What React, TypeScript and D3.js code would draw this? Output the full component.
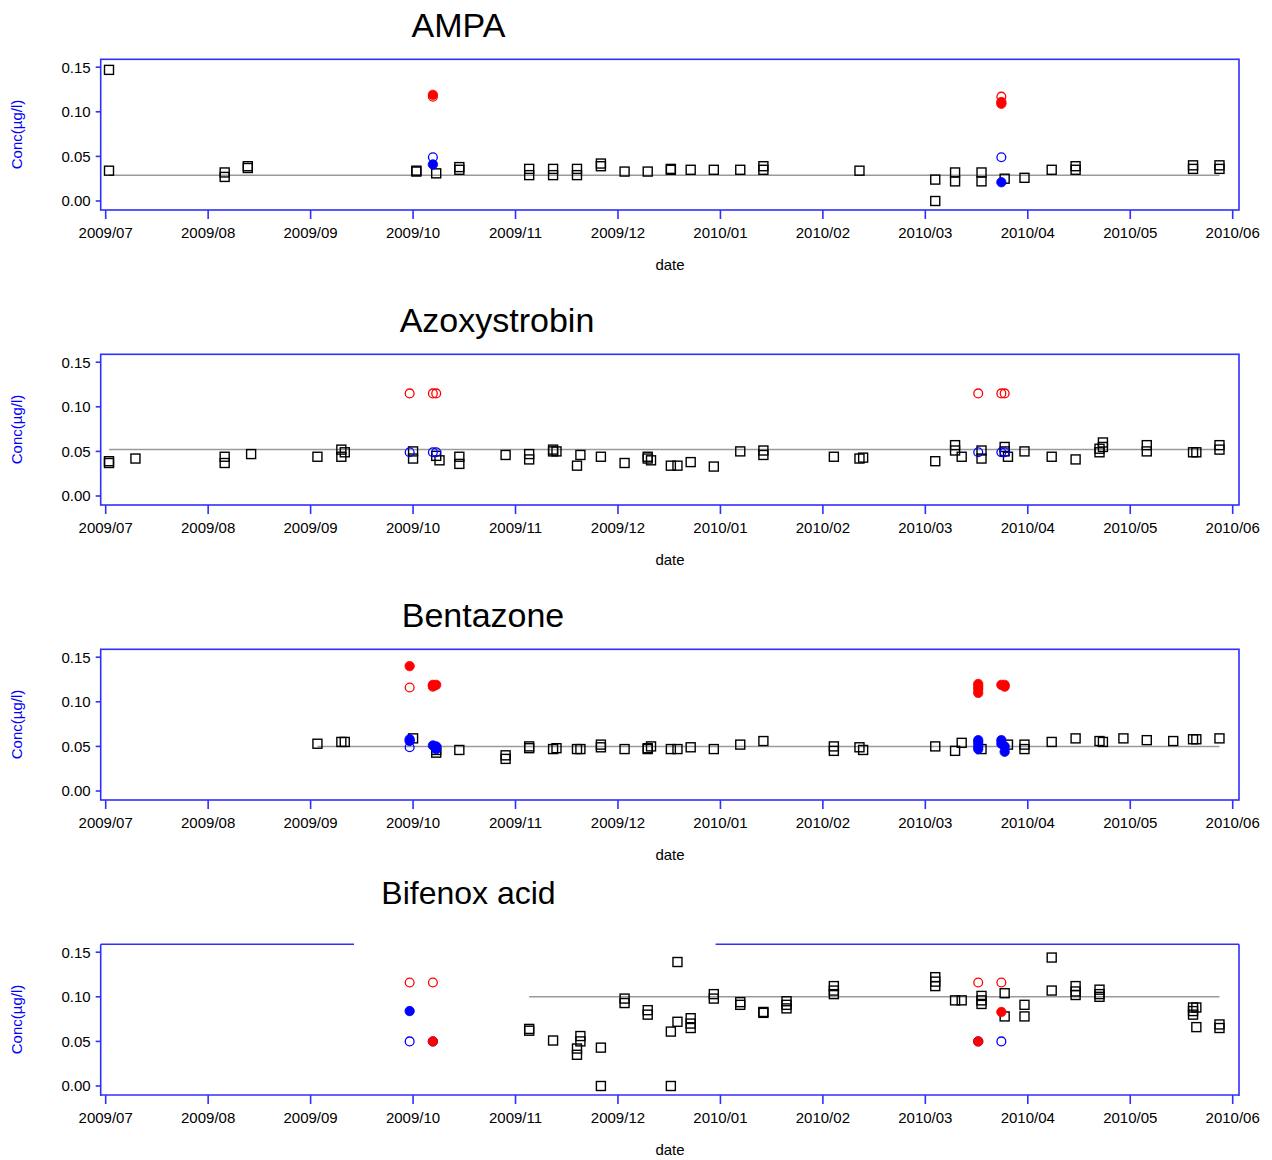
import React from "react";
import * as d3 from "d3";

type Pt = [string, number];

// ---------- data ----------
const monthTicks = ["2009/07","2009/08","2009/09","2009/10","2009/11","2009/12","2010/01","2010/02","2010/03","2010/04","2010/05","2010/06"];
const yTicks = [0, 0.05, 0.1, 0.15];
const compounds = ["AMPA", "Azoxystrobin", "Bentazone", "Bifenox acid"];
const meanValues = [0.029, 0.052, 0.05, 0.1];
const meanSpans: [string, string][] = [
  ["2009-07-02", "2010-05-28"],
  ["2009-07-02", "2010-05-28"],
  ["2009-09-03", "2010-05-28"],
  ["2009-11-05", "2010-05-28"],
];

const ampaSquares: Pt[] = [
  ["2009-07-02",0.147],["2009-07-02",0.034],
  ["2009-08-06",0.032],["2009-08-06",0.027],
  ["2009-08-13",0.039],["2009-08-13",0.037],
  ["2009-10-02",0.034],["2009-10-02",0.033],
  ["2009-10-08",0.031],
  ["2009-10-15",0.038],["2009-10-15",0.035],
  ["2009-11-05",0.036],["2009-11-05",0.029],
  ["2009-11-12",0.036],["2009-11-12",0.029],
  ["2009-11-19",0.036],["2009-11-19",0.029],
  ["2009-11-26",0.042],["2009-11-26",0.039],
  ["2009-12-03",0.033],
  ["2009-12-10",0.033],
  ["2009-12-17",0.035],["2009-12-17",0.036],
  ["2009-12-23",0.035],
  ["2009-12-30",0.035],
  ["2010-01-07",0.035],
  ["2010-01-14",0.039],["2010-01-14",0.035],
  ["2010-02-11",0.034],
  ["2010-03-04",0.024],["2010-03-04",0.0],
  ["2010-03-10",0.032],["2010-03-10",0.022],
  ["2010-03-18",0.032],["2010-03-18",0.022],
  ["2010-03-25",0.025],
  ["2010-03-31",0.026],
  ["2010-04-08",0.035],
  ["2010-04-15",0.039],["2010-04-15",0.035],
  ["2010-05-20",0.040],["2010-05-20",0.036],
  ["2010-05-28",0.040],["2010-05-28",0.036],
];
const ampaRedOpen: Pt[] = [["2009-10-07",0.117],["2010-03-24",0.117]];
const ampaRedFilled: Pt[] = [["2009-10-07",0.119],["2010-03-24",0.111],["2010-03-24",0.109]];
const ampaBlueOpen: Pt[] = [["2009-10-07",0.049],["2010-03-24",0.049]];
const ampaBlueFilled: Pt[] = [["2009-10-07",0.041],["2010-03-24",0.021]];

const azoxSquares: Pt[] = [
  ["2009-07-02",0.039],["2009-07-02",0.037],
  ["2009-07-10",0.042],
  ["2009-08-06",0.044],["2009-08-06",0.037],
  ["2009-08-14",0.047],
  ["2009-09-03",0.044],
  ["2009-09-10",0.052],["2009-09-10",0.044],["2009-09-11",0.049],
  ["2009-10-01",0.050],["2009-10-01",0.042],
  ["2009-10-08",0.045],["2009-10-09",0.040],
  ["2009-10-15",0.044],["2009-10-15",0.036],
  ["2009-10-29",0.046],
  ["2009-11-05",0.047],["2009-11-05",0.041],
  ["2009-11-12",0.052],["2009-11-12",0.050],["2009-11-13",0.050],
  ["2009-11-19",0.034],["2009-11-20",0.046],
  ["2009-11-26",0.044],
  ["2009-12-03",0.037],
  ["2009-12-10",0.044],["2009-12-10",0.042],["2009-12-11",0.040],
  ["2009-12-17",0.034],["2009-12-19",0.034],
  ["2009-12-23",0.038],
  ["2009-12-30",0.033],
  ["2010-01-07",0.050],
  ["2010-01-14",0.051],["2010-01-14",0.046],
  ["2010-02-04",0.044],
  ["2010-02-11",0.042],["2010-02-12",0.043],
  ["2010-03-04",0.039],
  ["2010-03-10",0.057],["2010-03-10",0.051],
  ["2010-03-12",0.044],
  ["2010-03-18",0.051],["2010-03-18",0.042],
  ["2010-03-25",0.055],["2010-03-25",0.050],["2010-03-26",0.044],
  ["2010-03-31",0.050],
  ["2010-04-08",0.044],
  ["2010-04-15",0.041],
  ["2010-04-22",0.053],["2010-04-22",0.049],["2010-04-23",0.060],["2010-04-23",0.055],
  ["2010-05-06",0.057],["2010-05-06",0.050],
  ["2010-05-20",0.049],["2010-05-21",0.049],
  ["2010-05-28",0.057],["2010-05-28",0.052],
];
const azoxRedOpen: Pt[] = [["2009-09-30",0.115],["2009-10-07",0.115],["2009-10-08",0.115],["2010-03-17",0.115],["2010-03-24",0.115],["2010-03-25",0.115]];
const azoxRedFilled: Pt[] = [];
const azoxBlueOpen: Pt[] = [["2009-09-30",0.049],["2009-10-07",0.049],["2009-10-08",0.049],["2010-03-17",0.049],["2010-03-24",0.049],["2010-03-25",0.049]];
const azoxBlueFilled: Pt[] = [];

const bentSquares: Pt[] = [
  ["2009-09-03",0.053],
  ["2009-09-10",0.055],["2009-09-11",0.055],
  ["2009-10-01",0.059],
  ["2009-10-08",0.046],["2009-10-08",0.043],
  ["2009-10-15",0.046],
  ["2009-10-29",0.040],["2009-10-29",0.036],
  ["2009-11-05",0.050],["2009-11-05",0.048],
  ["2009-11-12",0.047],["2009-11-13",0.048],
  ["2009-11-19",0.047],["2009-11-20",0.047],
  ["2009-11-26",0.052],["2009-11-26",0.049],
  ["2009-12-03",0.047],
  ["2009-12-10",0.048],["2009-12-10",0.047],["2009-12-11",0.050],
  ["2009-12-17",0.047],["2009-12-19",0.047],
  ["2009-12-23",0.049],
  ["2009-12-30",0.047],
  ["2010-01-07",0.052],
  ["2010-01-14",0.056],
  ["2010-02-04",0.050],["2010-02-04",0.045],
  ["2010-02-11",0.049],["2010-02-12",0.046],
  ["2010-03-04",0.050],
  ["2010-03-10",0.045],
  ["2010-03-12",0.054],
  ["2010-03-18",0.047],
  ["2010-03-26",0.052],
  ["2010-03-31",0.052],["2010-03-31",0.047],
  ["2010-04-08",0.055],
  ["2010-04-15",0.059],
  ["2010-04-22",0.056],["2010-04-23",0.055],
  ["2010-04-29",0.059],
  ["2010-05-06",0.057],
  ["2010-05-14",0.056],
  ["2010-05-20",0.058],["2010-05-21",0.058],
  ["2010-05-28",0.059],
];
const bentRedOpen: Pt[] = [["2009-09-30",0.116],["2009-10-07",0.117]];
const bentRedFilled: Pt[] = [
  ["2009-09-30",0.140],["2009-10-07",0.119],["2009-10-08",0.119],["2009-10-07",0.118],
  ["2010-03-17",0.120],["2010-03-17",0.117],["2010-03-17",0.114],["2010-03-17",0.110],
  ["2010-03-24",0.119],["2010-03-25",0.119],["2010-03-25",0.117],
];
const bentBlueOpen: Pt[] = [["2009-09-30",0.049]];
const bentBlueFilled: Pt[] = [
  ["2009-09-30",0.058],["2009-09-30",0.056],
  ["2009-10-07",0.051],["2009-10-08",0.050],["2009-10-08",0.047],
  ["2010-03-17",0.057],["2010-03-17",0.054],["2010-03-17",0.050],["2010-03-17",0.047],
  ["2010-03-24",0.057],["2010-03-24",0.053],["2010-03-25",0.050],["2010-03-25",0.044],
];

const bifeSquares: Pt[] = [
  ["2009-11-05",0.064],["2009-11-05",0.062],
  ["2009-11-12",0.051],
  ["2009-11-19",0.042],["2009-11-19",0.035],
  ["2009-11-20",0.056],["2009-11-20",0.050],
  ["2009-11-26",0.043],["2009-11-26",0.0],
  ["2009-12-03",0.098],["2009-12-03",0.093],
  ["2009-12-10",0.085],["2009-12-10",0.080],
  ["2009-12-17",0.061],["2009-12-17",0.0],
  ["2009-12-19",0.139],["2009-12-19",0.072],
  ["2009-12-23",0.076],["2009-12-23",0.070],["2009-12-23",0.065],
  ["2009-12-30",0.103],["2009-12-30",0.098],
  ["2010-01-07",0.094],["2010-01-07",0.091],
  ["2010-01-14",0.083],["2010-01-14",0.082],
  ["2010-01-21",0.095],["2010-01-21",0.091],["2010-01-21",0.087],
  ["2010-02-04",0.112],["2010-02-04",0.107],["2010-02-04",0.103],
  ["2010-03-04",0.122],["2010-03-04",0.117],["2010-03-04",0.112],
  ["2010-03-10",0.096],["2010-03-12",0.096],
  ["2010-03-18",0.101],["2010-03-18",0.096],["2010-03-18",0.092],
  ["2010-03-25",0.104],["2010-03-25",0.078],
  ["2010-03-31",0.091],["2010-03-31",0.078],
  ["2010-04-08",0.144],["2010-04-08",0.107],
  ["2010-04-15",0.112],["2010-04-15",0.106],["2010-04-15",0.102],
  ["2010-04-22",0.108],["2010-04-22",0.103],["2010-04-22",0.100],
  ["2010-05-20",0.088],["2010-05-20",0.084],["2010-05-20",0.080],
  ["2010-05-21",0.088],["2010-05-21",0.066],
  ["2010-05-28",0.069],["2010-05-28",0.065],
];
const bifeRedOpen: Pt[] = [["2009-09-30",0.116],["2009-10-07",0.116],["2010-03-17",0.116],["2010-03-24",0.116]];
const bifeRedFilled: Pt[] = [["2009-10-07",0.050],["2010-03-17",0.050],["2010-03-24",0.083]];
const bifeBlueOpen: Pt[] = [["2009-09-30",0.050],["2010-03-24",0.050]];
const bifeBlueFilled: Pt[] = [["2009-09-30",0.084],["2009-10-07",0.050],["2010-03-17",0.050]];

const squaresByPanel = [ampaSquares, azoxSquares, bentSquares, bifeSquares];
const redOpenByPanel = [ampaRedOpen, azoxRedOpen, bentRedOpen, bifeRedOpen];
const redFilledByPanel = [ampaRedFilled, azoxRedFilled, bentRedFilled, bifeRedFilled];
const blueOpenByPanel = [ampaBlueOpen, azoxBlueOpen, bentBlueOpen, bifeBlueOpen];
const blueFilledByPanel = [ampaBlueFilled, azoxBlueFilled, bentBlueFilled, bifeBlueFilled];

// ---------- layout ----------
const W = 1272;
const H = 1160;
const PANEL_STEP = 295;
const FRAME = { left: 100.7, right: 1239, top: 59.3, bottom: 210 };
const TITLE_POS = [
  { x: 458.5, y: 37.3, size: 34 },
  { x: 497, y: 37.3, size: 34 },
  { x: 483, y: 37.3, size: 34 },
  { x: 468.5, y: 18.5, size: 32 },
];
const FONT = "Arial, 'Liberation Sans', Helvetica, sans-serif";
const AXIS_BLUE = "#2f2fff";

function monthIndex(s: string): number {
  const [y, m, d] = s.split("-").map(Number);
  const dim = new Date(y, m, 0).getDate();
  return (y - 2009) * 12 + (m - 7) + (d - 1) / dim;
}

const xScale = d3.scaleLinear().domain([0, 11]).range([105.7, 1232.7]);

function Panel({ idx }: { idx: number }) {
  const off = idx * PANEL_STEP;
  const y = d3.scaleLinear().domain([0, 0.15]).range([201 + off, 67.2 + off]);
  const fTop = FRAME.top + off;
  const fBot = FRAME.bottom + off;
  const sq = 9;
  const r = 4.4;
  const title = TITLE_POS[idx];
  const [ms, me] = meanSpans[idx];
  const px = (p: Pt) => xScale(monthIndex(p[0]));
  return (
    <g>
      <text x={title.x} y={title.y + off} textAnchor="middle" fontSize={title.size} fontFamily={FONT} fill="#000">
        {compounds[idx]}
      </text>
      {idx === 3 ? (
        <g stroke={AXIS_BLUE} strokeWidth={1.6} fill="none">
          <line x1={FRAME.left} x2={354} y1={fTop} y2={fTop} />
          <line x1={715.6} x2={FRAME.right} y1={fTop} y2={fTop} />
          <line x1={FRAME.left} x2={FRAME.left} y1={fTop} y2={fBot + 1} />
          <line x1={FRAME.right} x2={FRAME.right} y1={fTop} y2={fBot + 1} />
          <line x1={FRAME.left} x2={FRAME.right} y1={fBot} y2={fBot} />
        </g>
      ) : (
        <rect x={FRAME.left} y={fTop} width={FRAME.right - FRAME.left} height={fBot - fTop} fill="none" stroke={AXIS_BLUE} strokeWidth={1.6} />
      )}
      {yTicks.map((t) => (
        <g key={"y" + t}>
          <line x1={FRAME.left - 5} x2={FRAME.left} y1={y(t)} y2={y(t)} stroke={AXIS_BLUE} strokeWidth={1.6} />
          <text x={90.7} y={y(t)} dy="0.36em" textAnchor="end" fontSize={15} fontFamily={FONT} fill="#000">
            {d3.format(".2f")(t)}
          </text>
        </g>
      ))}
      {monthTicks.map((lab, i) => (
        <g key={"x" + lab}>
          <line x1={xScale(i)} x2={xScale(i)} y1={fBot} y2={fBot + 9} stroke={AXIS_BLUE} strokeWidth={1.6} />
          <text x={xScale(i)} y={238.3 + off} textAnchor="middle" fontSize={15} fontFamily={FONT} fill="#000">
            {lab}
          </text>
        </g>
      ))}
      <text x={670} y={270 + off} textAnchor="middle" fontSize={15} fontFamily={FONT} fill="#000">
        date
      </text>
      <text
        transform={`translate(16.2,${134.5 + off}) rotate(-90)`}
        textAnchor="middle"
        dominantBaseline="central"
        fontSize={15}
        fontFamily={FONT}
        fill="#0000ff"
      >
        Conc(µg/l)
      </text>
      <line
        x1={xScale(monthIndex(ms))}
        x2={xScale(monthIndex(me))}
        y1={y(meanValues[idx])}
        y2={y(meanValues[idx])}
        stroke="#9a9a9a"
        strokeWidth={1.5}
      />
      {squaresByPanel[idx].map((p, i) => (
        <rect key={"s" + i} x={px(p) - sq / 2} y={y(p[1]) - sq / 2} width={sq} height={sq} fill="none" stroke="#000" strokeWidth={1.4} />
      ))}
      {blueOpenByPanel[idx].map((p, i) => (
        <circle key={"bo" + i} cx={px(p)} cy={y(p[1])} r={r} fill="none" stroke="#0000ff" strokeWidth={1.3} />
      ))}
      {blueFilledByPanel[idx].map((p, i) => (
        <circle key={"bf" + i} cx={px(p)} cy={y(p[1])} r={r + 0.3} fill="#0000ff" stroke="#0000ff" strokeWidth={0.8} />
      ))}
      {redOpenByPanel[idx].map((p, i) => (
        <circle key={"ro" + i} cx={px(p)} cy={y(p[1])} r={r} fill="none" stroke="#ff0000" strokeWidth={1.3} />
      ))}
      {redFilledByPanel[idx].map((p, i) => (
        <circle key={"rf" + i} cx={px(p)} cy={y(p[1])} r={r + 0.3} fill="#ff0000" stroke="#ff0000" strokeWidth={0.8} />
      ))}
    </g>
  );
}

export default function App() {
  return (
    <svg
      width={W}
      height={H}
      viewBox={`0 0 ${W} ${H}`}
      style={{ position: "absolute", left: 0, top: 0, display: "block", background: "#fff" }}
    >
      <rect x={0} y={0} width={W} height={H} fill="#fff" />
      {compounds.map((c, i) => (
        <Panel key={c} idx={i} />
      ))}
    </svg>
  );
}
